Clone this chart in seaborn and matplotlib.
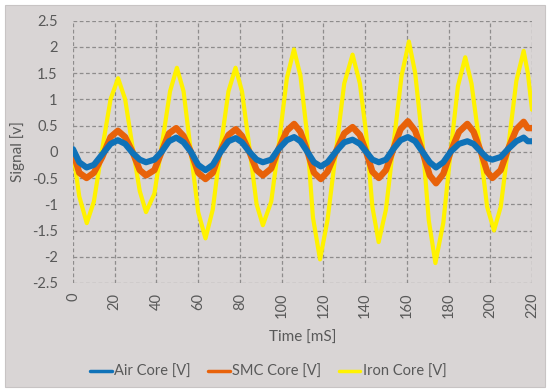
import matplotlib
matplotlib.use("Agg")
import matplotlib.pyplot as plt
import seaborn as sns
from matplotlib.patches import Rectangle

time_ms = [0, 3, 6.5, 10, 14, 18, 21.5, 25, 28.5, 32, 35, 39, 42.5, 46, 49.5, 53, 56.5, 60, 63.5, 67,
           70.5, 74.5, 78, 81, 84.5, 88, 91, 95, 98.5, 102.5, 106, 109, 112, 115.5, 118.8, 122, 126, 130,
           134, 137.5, 140.5, 143.5, 146.6, 150, 153.5, 157, 160.5, 164, 167.5, 171, 174, 177.5, 181, 185,
           189, 192, 195.5, 198.5, 201, 205, 208.5, 212.5, 216, 218, 220]
air_core = [0.05, -0.2, -0.3, -0.25, -0.05, 0.15, 0.22, 0.15, -0.02, -0.15, -0.2, -0.15, 0.0, 0.2, 0.27,
            0.18, 0.0, -0.25, -0.35, -0.25, -0.02, 0.2, 0.26, 0.18, 0.0, -0.15, -0.2, -0.15, 0.05, 0.22, 0.28,
            0.2, 0.02, -0.2, -0.28, -0.2, 0.0, 0.18, 0.23, 0.15, 0.0, -0.15, -0.2, -0.15, 0.05, 0.22, 0.28,
            0.2, 0.0, -0.2, -0.3, -0.2, 0.0, 0.15, 0.2, 0.15, 0.0, -0.12, -0.15, -0.1, 0.05, 0.2, 0.27, 0.2, 0.2]
smc_core = [0.0, -0.4, -0.5, -0.4, -0.1, 0.28, 0.4, 0.28, 0.0, -0.35, -0.45, -0.35, 0.0, 0.35, 0.45,
            0.3, 0.0, -0.4, -0.52, -0.4, 0.0, 0.32, 0.43, 0.3, 0.0, -0.35, -0.45, -0.32, 0.05, 0.4, 0.53,
            0.38, 0.05, -0.4, -0.52, -0.38, 0.0, 0.35, 0.47, 0.32, 0.0, -0.38, -0.5, -0.35, 0.05, 0.43, 0.58,
            0.4, 0.0, -0.45, -0.6, -0.42, 0.0, 0.38, 0.53, 0.38, 0.0, -0.38, -0.5, -0.35, 0.05, 0.43, 0.57,
            0.45, 0.45]

time_iron_ms = [0, 3, 6.6, 10, 14, 18, 21.6, 25, 28.5, 32, 35, 39, 42.5, 46.5, 49.8, 53, 56.5, 60, 63.5,
                67, 70.5, 74.5, 77.9, 81, 84.5, 88, 91, 95, 98.5, 102.5, 105.9, 109, 112, 115, 118.4, 122,
                126, 130, 134, 137.5, 140.5, 143.5, 146.5, 150, 153.5, 157.5, 161, 164, 167.5, 170.5, 173.7,
                177.5, 181, 184.5, 188, 191, 195, 198.5, 201.8, 205, 208.5, 212.5, 216, 218, 220]
iron_core = [0, -0.85, -1.36, -0.95, 0.05, 1.0, 1.4, 1.0, 0.1, -0.75, -1.15, -0.8, 0.1, 1.15, 1.6,
             1.15, 0.0, -1.15, -1.65, -1.1, 0.0, 1.15, 1.6, 1.15, 0.1, -1.0, -1.4, -0.95, 0.1, 1.4, 1.95,
             1.45, 0.4, -1.25, -2.05, -1.3, 0.0, 1.3, 1.85, 1.3, 0.35, -1.05, -1.72, -1.1, 0.1, 1.45, 2.1,
             1.5, 0.2, -1.3, -2.12, -1.35, 0.0, 1.25, 1.8, 1.3, 0.1, -1.05, -1.5, -1.05, 0.05, 1.35, 1.92,
             1.5, 0.8]

series_names = ["Air Core [V]", "SMC Core [V]", "Iron Core [V]"]
x_ticks = list(range(0, 221, 20))
y_ticks = [-2.5, -2, -1.5, -1, -0.5, 0, 0.5, 1, 1.5, 2, 2.5]
y_tick_labels = ["-2.5", "-2", "-1.5", "-1", "-0.5", "0", "0.5", "1", "1.5", "2", "2.5"]

sns.set_theme(style="white")
plt.rcParams["font.family"] = ["Lato", "DejaVu Sans"]

bg = "#D9D5D5"
txt = "#595959"
fig = plt.figure(figsize=(5.5, 3.92), dpi=100, facecolor="white")
fig.patches.append(Rectangle((5 / 550, 5 / 392), 540 / 550, 382 / 392, transform=fig.transFigure,
                             facecolor=bg, edgecolor="#C8C4C4", linewidth=0.8, zorder=-10))
ax = fig.add_axes([73 / 550, (392 - 283) / 392, 459 / 550, 262.5 / 392])
ax.set_facecolor(bg)

sns.lineplot(x=time_iron_ms, y=iron_core, ax=ax, color="#FFF200", linewidth=3.0, sort=False,
             label=series_names[2], zorder=2)
sns.lineplot(x=time_ms, y=smc_core, ax=ax, color="#E8620A", linewidth=4.6, sort=False,
             label=series_names[1], zorder=3)
sns.lineplot(x=time_ms, y=air_core, ax=ax, color="#0F72B8", linewidth=4.4, sort=False,
             label=series_names[0], zorder=4)

ax.set_xlim(0, 220)
ax.set_ylim(-2.5, 2.5)
ax.set_xticks(x_ticks)
ax.set_xticklabels([str(v) for v in x_ticks], rotation=90, color=txt, fontsize=10.5)
ax.set_yticks(y_ticks)
ax.set_yticklabels(y_tick_labels, color=txt, fontsize=10.5)
ax.tick_params(axis="x", length=0, pad=7)
ax.tick_params(axis="y", length=0, pad=11)
for s in ax.spines.values():
    s.set_visible(False)
ax.grid(True, color="#8E8C8C", linestyle=(0, (3, 2)), linewidth=0.9)
ax.set_axisbelow(True)
ax.set_xlabel("Time [mS]", color=txt, fontsize=11, labelpad=9)
ax.set_ylabel("Signal [v]", color=txt, fontsize=11, labelpad=5)

handles, labels = ax.get_legend_handles_labels()
order = [labels.index(n) for n in series_names]
leg = ax.legend([handles[i] for i in order], [labels[i] for i in order], loc="center",
                bbox_to_anchor=(268 / 550, 1 - 372 / 392), bbox_transform=fig.transFigure, ncol=3,
                frameon=False, fontsize=10.5, handlelength=1.5, handletextpad=0.15, columnspacing=1.2,
                labelcolor=txt)
for line in leg.get_lines():
    line.set_linewidth(2.5)

fig.savefig("out.png", dpi=100, facecolor="white")
